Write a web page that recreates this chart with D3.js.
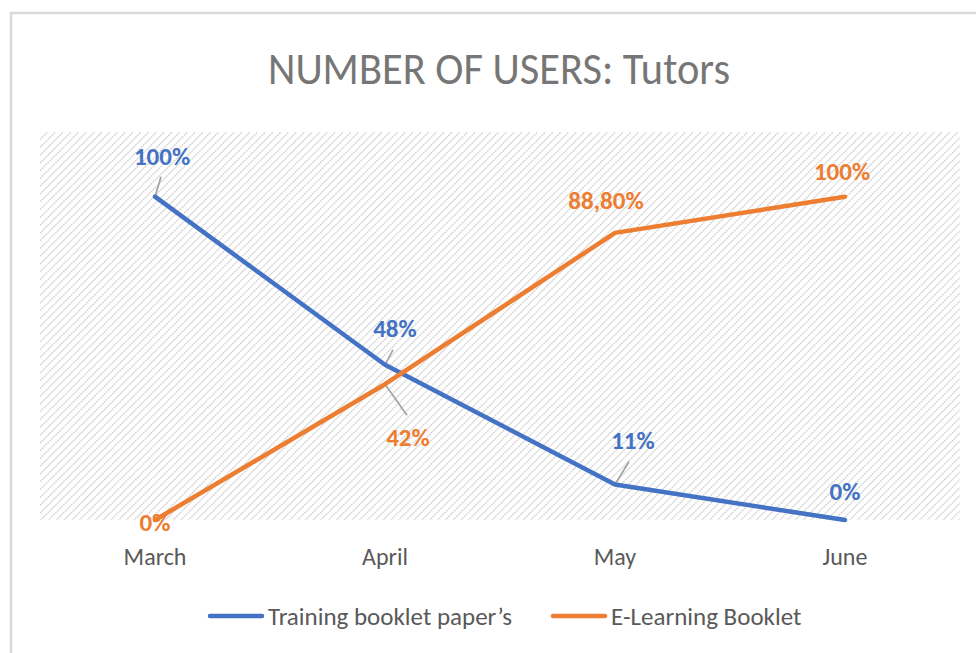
<!DOCTYPE html>
<html>
<head>
<meta charset="utf-8">
<script src="https://cdn.jsdelivr.net/npm/d3@7"></script>
<style>
  body { margin: 0; background: #fff; }
  text { font-family: Carlito, Calibri, "Liberation Sans Narrow", "Open Sans", sans-serif; }
</style>
</head>
<body>
<div id="chart"></div>
<script>
const months = ["March", "April", "May", "June"];
const paper = [100, 48, 11, 0];
const elearn = [0, 42, 88.8, 100];
const paperLabels = ["100%", "48%", "11%", "0%"];
const elearnLabels = ["0%", "42%", "88,80%", "100%"];
const seriesNames = ["Training booklet paper\u2019s", "E-Learning Booklet"];

let width = 976, height = 653,
    margin = ({ top: 132, right: 16, bottom: 133, left: 40 });

const svg = d3.select("#chart").append("svg")
    .attr("width", width).attr("height", height);

// hatch pattern for plot background
const pat = svg.append("defs").append("pattern")
    .attr("id", "hatch")
    .attr("patternUnits", "userSpaceOnUse")
    .attr("width", 5.5).attr("height", 5.5)
    .attr("patternTransform", "rotate(45)");
pat.append("line")
    .attr("x1", 0).attr("y1", 0).attr("x2", 0).attr("y2", 5.5)
    .attr("stroke", "#c9c9c9").attr("stroke-width", 2.2)
    .attr("stroke-dasharray", "2,0.75");

// outer frame
svg.append("rect")
    .attr("x", 11).attr("y", 13).attr("width", 1000).attr("height", 700)
    .attr("fill", "none").attr("stroke", "#d9d9d9").attr("stroke-width", 2.5);

const x = d3.scaleBand().domain(months)
    .range([margin.left, width - margin.right]);
const cx = d => x(d) + x.bandwidth() / 2;

const y = d3.scaleLinear().domain([0, 120])
    .range([height - margin.bottom, margin.top]);

svg.append("rect")
    .attr("x", margin.left).attr("y", margin.top)
    .attr("width", width - margin.left - margin.right)
    .attr("height", height - margin.top - margin.bottom)
    .attr("fill", "url(#hatch)");

svg.append("text")
    .attr("x", 499).attr("y", 84)
    .attr("text-anchor", "middle")
    .attr("font-size", 46).attr("fill", "#767676")
    .attr("textLength", 462).attr("lengthAdjust", "spacingAndGlyphs")
    .text("NUMBER OF USERS: Tutors");

// x axis labels
const xAxis = svg.append("g")
    .attr("transform", `translate(0,${height - margin.bottom})`)
    .call(d3.axisBottom(x).tickSize(0));
xAxis.select(".domain").remove();
xAxis.selectAll("text")
    .attr("y", 36).attr("dy", null)
    .attr("dominant-baseline", "central")
    .attr("font-size", 24).attr("fill", "#595959")
    .style("font-family", "Carlito, Calibri, 'Liberation Sans Narrow', 'Open Sans', sans-serif");

const line = d3.line().x((d, i) => cx(months[i])).y(d => y(d));

const series = [
  { vals: paper, labels: paperLabels, color: "#4472c4",
    off: [[7, -40], [10, -36], [18, -44], [0, -29]],
    leader: [[6, -20], [8, -15], [14, -23], null] },
  { vals: elearn, labels: elearnLabels, color: "#ed7d31",
    off: [[0, 2], [23, 53], [-9, -32], [-3, -25]],
    leader: [null, [22, 31], null, null] }
];

// leader lines
series.forEach(s => {
  s.vals.forEach((v, i) => {
    const l = s.leader[i];
    if (!l) return;
    const px = cx(months[i]), py = y(v);
    svg.append("line")
      .attr("x1", px).attr("y1", py)
      .attr("x2", px + l[0]).attr("y2", py + l[1])
      .attr("stroke", "#a6a6a6").attr("stroke-width", 1.8);
  });
});

series.forEach(s => {
  svg.append("path")
    .datum(s.vals)
    .attr("d", line)
    .attr("fill", "none")
    .attr("stroke", s.color)
    .attr("stroke-width", 4.5)
    .attr("stroke-linecap", "round")
    .attr("stroke-linejoin", "round");
});

series.forEach(s => {
  svg.append("g").selectAll("text")
    .data(s.vals)
    .join("text")
    .attr("x", (d, i) => cx(months[i]) + s.off[i][0])
    .attr("y", (d, i) => y(d) + s.off[i][1])
    .attr("text-anchor", "middle")
    .attr("dominant-baseline", "central")
    .attr("font-size", 25).attr("font-weight", "bold")
    .attr("fill", s.color)
    .text((d, i) => s.labels[i]);
});

// legend
const legendX = [210, 553];
const legend = svg.append("g").selectAll("g")
    .data(seriesNames)
    .join("g")
    .attr("transform", (d, i) => `translate(${legendX[i]},616)`);
legend.append("line")
    .attr("x1", 0).attr("x2", 52)
    .attr("stroke", (d, i) => series[i].color)
    .attr("stroke-width", 4.5).attr("stroke-linecap", "round");
legend.append("text")
    .attr("x", 58).attr("dominant-baseline", "central")
    .attr("font-size", 25).attr("fill", "#595959")
    .text(d => d);
</script>
</body>
</html>
